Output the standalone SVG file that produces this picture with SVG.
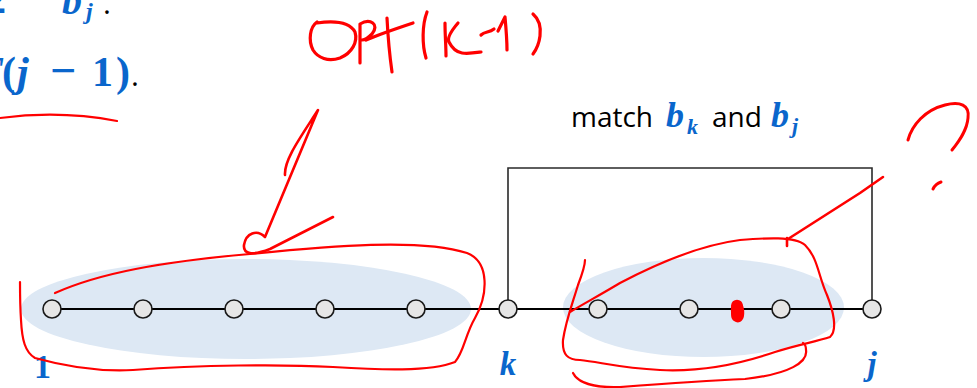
<svg xmlns="http://www.w3.org/2000/svg" width="977" height="388" viewBox="0 0 977 388">
<style>
.m{font-family:"Liberation Serif","DejaVu Serif",serif;font-weight:bold;fill:#0a66cc}
.mi{font-family:"Liberation Serif","DejaVu Serif",serif;font-weight:bold;font-style:italic;fill:#0a66cc}
.s{font-family:"Open Sans","Liberation Sans",sans-serif;fill:#000}
.node{fill:#e6e6e6;stroke:#1a1a1a;stroke-width:1.6}
.ink{fill:none;stroke:#ff0000;stroke-linecap:round;stroke-linejoin:round}
</style>
<rect width="977" height="388" fill="#fff"/>
<g id="line1">
<text class="m" x="-14" y="13" font-size="40">2</text>
<text class="mi" x="62" y="14" font-size="40">b</text>
<text class="mi" x="86" y="19" font-size="24">j</text>
<text class="s" x="103" y="14" font-size="30">.</text>
</g>
<g id="line2">
<text class="mi" x="2" y="86" font-size="42" text-anchor="end">T</text>
<text class="m" x="2" y="86" font-size="42" font-weight="normal">(</text>
<text class="mi" x="17" y="86" font-size="42">j</text>
<text class="m" x="50" y="86" font-size="46" font-weight="normal">−</text>
<text class="m" x="92" y="86" font-size="42">1</text>
<text class="m" x="116" y="86" font-size="42" font-weight="normal">)</text>
<text class="s" x="131" y="86" font-size="30">.</text>
</g>
<g id="groups">
<ellipse cx="246" cy="309" rx="225" ry="50" fill="#dde8f4"/>
<ellipse cx="703.5" cy="307.5" rx="140.5" ry="49.5" fill="#dde8f4"/>
</g>
<g id="connectors" fill="none">
<line x1="52" y1="309" x2="872" y2="309" stroke="#000" stroke-width="2"/>
<polyline points="508,309 508,168 872,168 872,309" stroke="#2a2a2a" stroke-width="1.6"/>
</g>
<g id="n1"><circle class="node" cx="52" cy="309" r="9"/></g>
<g id="n2"><circle class="node" cx="143" cy="309" r="9"/></g>
<g id="n3"><circle class="node" cx="234" cy="309" r="9"/></g>
<g id="n4"><circle class="node" cx="325" cy="309" r="9"/></g>
<g id="n5"><circle class="node" cx="416" cy="309" r="9"/></g>
<g id="nk"><circle class="node" cx="508" cy="309" r="9"/></g>
<g id="n7"><circle class="node" cx="598" cy="309" r="9"/></g>
<g id="n8"><circle class="node" cx="689" cy="309" r="9"/></g>
<g id="n9"><circle class="node" cx="781" cy="309" r="9"/></g>
<g id="nj"><circle class="node" cx="872" cy="309" r="9"/></g>
<g id="labels">
<text class="m" x="34" y="378" font-size="34">1</text>
<text class="mi" x="508" y="375" font-size="33" text-anchor="middle">k</text>
<text class="mi" x="872" y="375" font-size="33" text-anchor="middle">j</text>
<text class="s" x="571" y="127" font-size="28">match</text>
<text class="mi" x="666" y="127" font-size="36">b</text>
<text class="mi" x="687" y="134" font-size="22">k</text>
<text class="s" x="712" y="127" font-size="28">and</text>
<text class="mi" x="771" y="127" font-size="36">b</text>
<text class="mi" x="792" y="133" font-size="22">j</text>
</g>
<g id="ink">
<path class="ink" stroke-width="2.2" d="M0,118 Q60,110 117,121"/>
<g stroke-width="3.2">
<path class="ink" d="M317,22 C310,27 308,40 313,50 C318,58 328,62 340,58 C352,53 358,42 355,32 C350,23 338,20 317,23"/>
<path class="ink" d="M360,63 L360,24 C370,18 380,24 372,34 C368,38 364,40 362,40"/>
<path class="ink" d="M366,40 C380,34 398,28 413,23"/>
<path class="ink" d="M387,18 C388,38 390,58 392,72"/>
<path class="ink" d="M427,12 C422,25 422,45 426,58"/>
<path class="ink" d="M445,23 C445,35 446,46 446,56 M458,23 C452,30 447,38 449,42 C452,48 456,52 462,53 C468,54 474,53 481,52"/>
<path class="ink" d="M481,35 C485,31 489,33 494,29"/>
<path class="ink" d="M498,31 L505,17 C506,28 507,40 507,50"/>
<path class="ink" d="M533,14 C540,20 541,28 540,36 C539,44 536,50 533,54"/>
</g>
<path class="ink" stroke-width="2.6" d="M285,175 C284,160 300,138 318,110 L265,237 C257,229 246,233 244,245 C243,254 252,256 270,249 L333,217"/>
<path class="ink" stroke-width="2.2" d="M55,293 C100,273 160,262 250,254 C330,246 420,238 467,253 C490,262 488,295 475,318 C465,335 464,352 455,362 C430,372 380,370 333,367 C280,364 200,365 133,370 C95,372 60,365 35,358 C25,352 22,340 21,320 C20,305 20,290 20,282"/>
<path class="ink" stroke-width="2.2" d="M570,312 C585,303 600,295 620,283 C660,262 700,245 740,240 C765,238 795,236 805,245 C818,258 818,275 827,295 C833,310 838,330 830,337 C815,342 800,344 775,352 C740,364 700,372 660,370 C620,368 600,362 580,360 C568,360 562,355 563,340 C566,320 572,305 578,285 C583,272 585,262 585,260"/>
<path class="ink" stroke-width="2.2" d="M573,373 C578,383 595,388 620,387 C660,384 700,381 745,379 C790,374 808,362 806,350 C806,346 805,344 803,343"/>
<path class="ink" stroke-width="2.6" d="M787,246 L787,238 M788,239 L860,193 L883,177"/>
<path class="ink" stroke-width="3" d="M908,140 C912,125 925,110 945,105 C960,101 970,105 968,118 C967,130 960,140 952,150"/>
<path class="ink" stroke-width="3" d="M933,189 C935,185 938,183 941,182"/>
<path d="M731,312 C730,304 734,300 738,301 C743,302 745,309 744,316 C743,322 738,324 734,321 C731,319 731,316 731,312 Z" fill="#ff0000"/>
<path class="ink" stroke-width="2" d="M732,306 C732,299 742,299 742,306"/>
</g>
</svg>
